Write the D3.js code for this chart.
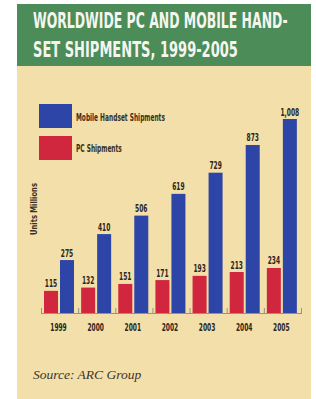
<!DOCTYPE html>
<html><head><meta charset="utf-8">
<script src="https://cdn.jsdelivr.net/npm/d3@7"></script>
<style>html,body{margin:0;padding:0;background:#fff;}svg{display:block;}</style>
</head><body>
<svg id="chart" width="316" height="399"></svg>
<script>
const years = ["1999","2000","2001","2002","2003","2004","2005"];
const pcShipments = [115, 132, 151, 171, 193, 213, 234];
const mobileShipments = [275, 410, 506, 619, 729, 873, 1008];
const seriesKeys = ["pc", "mobile"];
const seriesNames = ["Mobile Handset Shipments", "PC Shipments"];
const titleLines = ["WORLDWIDE PC AND MOBILE HAND-", "SET SHIPMENTS, 1999-2005"];
const yLabel = "Units Millions";
const sourceText = "Source: ARC Group";

const colors = {pc: "#d0263e", mobile: "#2c45a6"};
const narrow = "'Liberation Sans Narrow','DejaVu Sans Condensed','Arial Narrow',sans-serif";

const svg = d3.select("#chart");

function fitX(sel, px, py, width, rot) {
  const w = sel.node().getComputedTextLength();
  const sx = width / w;
  sel.attr("transform", `translate(${px},${py})` + (rot ? ` rotate(${rot})` : "") + ` scale(${sx},1)`);
  return sx;
}
function scaleX(sel, px, py, sx) {
  sel.attr("transform", `translate(${px},${py}) scale(${sx},1)`);
}

// panel
svg.append("rect").attr("x", 17).attr("y", 4).attr("width", 294).attr("height", 395).attr("fill", "#f3dfa9");
svg.append("rect").attr("x", 17).attr("y", 4).attr("width", 294).attr("height", 62).attr("fill", "#4b8c58");

// title
const tl = [[28, 255], [57, 205]];
titleLines.forEach((t, i) => {
  const s = svg.append("text").attr("x", 0).attr("y", 0)
    .attr("font-family", narrow).attr("font-weight", "bold").attr("font-size", 21)
    .attr("fill", "#f5f5ef").text(t);
  fitX(s, 33, tl[i][0], tl[i][1]);
});

const data = years.map((y, i) => ({year: y, pc: pcShipments[i], mobile: mobileShipments[i]}));

const x = d3.scaleBand().domain(years).range([41, 301]).paddingInner(0).paddingOuter(0);
const x1 = d3.scaleBand().domain(seriesKeys).range([3, 33]).paddingInner(0.125).paddingOuter(0);
const y = d3.scaleLinear().domain([0, 1008]).range([313, 119]);

// baseline + ticks
const axisG = svg.append("g");
axisG.append("line").attr("x1", x.range()[0]).attr("x2", x.range()[1])
  .attr("y1", y(0) + 0.5).attr("y2", y(0) + 0.5).attr("stroke", "#9a9184").attr("stroke-width", 1);
const tickXs = years.map(d => x(d)).concat([x.range()[1]]);
axisG.selectAll("line.tk").data(tickXs).join("line").attr("class", "tk")
  .attr("x1", d => d + 0.5).attr("x2", d => d + 0.5)
  .attr("y1", y(0) - 5).attr("y2", y(0) + 1).attr("stroke", "#9a9184").attr("stroke-width", 1);

const labelSize = 10.5;
const probe = svg.append("text").attr("font-family", narrow).attr("font-weight", "bold")
  .attr("font-size", labelSize).text("1999");
const smallSx = 16.5 / probe.node().getComputedTextLength();
probe.remove();

// bars
const groups = svg.selectAll("g.grp").data(data).join("g").attr("class", "grp")
  .attr("transform", d => `translate(${x(d.year)},0)`);
groups.selectAll("rect").data(d => seriesKeys.map(k => ({key: k, value: d[k]}))).join("rect")
  .attr("x", d => x1(d.key)).attr("width", x1.bandwidth())
  .attr("y", d => y(d.value)).attr("height", d => y(0) - y(d.value))
  .attr("fill", d => colors[d.key]);
groups.selectAll("text.val").data(d => seriesKeys.map(k => ({key: k, value: d[k]}))).join("text")
  .attr("class", "val")
  .attr("transform", d => `translate(${x1(d.key) + x1.bandwidth() / 2},${y(d.value) - 3.5}) scale(${smallSx},1)`)
  .attr("text-anchor", "middle").attr("font-family", narrow).attr("font-weight", "bold")
  .attr("font-size", labelSize).attr("fill", "#2a2520")
  .text(d => d3.format(",")(d.value));

// year labels
svg.selectAll("text.yr").data(years).join("text").attr("class", "yr")
  .attr("transform", d => `translate(${x(d) + 17.5},330.5) scale(${smallSx},1)`)
  .attr("text-anchor", "middle").attr("font-family", narrow).attr("font-weight", "bold")
  .attr("font-size", labelSize).attr("fill", "#2a2520").text(d => d);

// legend
const legendKeys = ["mobile", "pc"];
let legSx = 1;
legendKeys.forEach((k, i) => {
  const ly = 104 + i * 32;
  svg.append("rect").attr("x", 39).attr("y", ly).attr("width", 33).attr("height", 24).attr("fill", colors[k]);
  const t = svg.append("text").attr("x", 0).attr("y", 0)
    .attr("font-family", narrow).attr("font-weight", "bold").attr("font-size", 10)
    .attr("fill", "#3a3022").text(seriesNames[i]);
  if (i === 0) legSx = fitX(t, 76, ly + 17, 89);
  else scaleX(t, 76, ly + 16, legSx);
});

// y label
const yl = svg.append("text").attr("x", 0).attr("y", 0)
  .attr("text-anchor", "middle").attr("font-family", narrow).attr("font-weight", "bold")
  .attr("font-size", 9.5).attr("fill", "#3a3022").text(yLabel);
{
  const w = yl.node().getComputedTextLength();
  yl.attr("transform", `translate(36.5,209) rotate(-90) scale(${52 / w},1)`);
}

// source
svg.append("text").attr("x", 33).attr("y", 379)
  .attr("font-family", "'Liberation Serif','DejaVu Serif',serif").attr("font-style", "italic")
  .attr("font-size", 13.5).attr("fill", "#3a3530").text(sourceText);
</script>
</body></html>
